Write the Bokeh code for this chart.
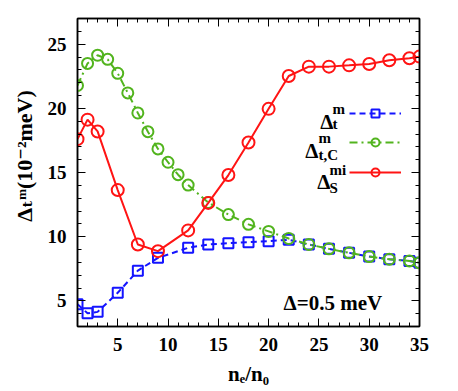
from bokeh.plotting import figure
from bokeh.models import (FixedTicker, LinearAxis, Label, Legend, LegendItem, Range1d)
from bokeh.core.properties import value
from bokeh.embed import file_html
from bokeh.resources import INLINE

# ---- data ----
x_t = [1, 2, 3, 5, 7, 9, 12, 14, 16, 18, 20, 22, 24, 26, 28, 30, 32, 34, 35]
y_t = [4.74, 4.03, 4.14, 5.63, 7.35, 8.35, 9.13, 9.39, 9.49, 9.57, 9.65, 9.76,
       9.39, 9.05, 8.74, 8.45, 8.24, 8.11, 7.96]
x_tc = [1, 2, 3, 4, 5, 6, 7, 8, 9, 10, 11, 12, 14, 16, 18, 20, 22, 24, 26, 28, 30, 32, 34, 35]
y_tc = [21.78, 23.5, 24.14, 23.82, 22.73, 21.2, 19.64, 18.18, 16.84, 15.8, 14.83, 14.02,
        12.66, 11.72, 10.96, 10.41, 9.86, 9.39, 9.05, 8.74, 8.45, 8.24, 8.11, 7.96]
x_s = [1, 2, 3, 5, 7, 9, 12, 14, 16, 18, 20, 22, 24, 26, 28, 30, 32, 34, 35]
y_s = [17.6, 19.12, 18.2, 13.63, 9.39, 8.87, 10.49, 12.63, 14.8, 17.34, 19.96, 22.52,
       23.25, 23.25, 23.35, 23.46, 23.75, 23.9, 24.03]

x_major = [5, 10, 15, 20, 25, 30, 35]
x_minor = list(range(1, 36))
y_major = [5, 10, 15, 20, 25]
y_minor = list(range(3, 28))

x_label = "n\u2091/n\u2080"
y_label = "\u00a0" * 6 + "\u0394\u209c\u1d50(10\u207b\u00b2meV)"

BLUE = "#1414ff"
GREEN = "#52b41e"
RED = "#ff1414"
FONT = "Liberation Serif, Times New Roman, DejaVu Serif, serif"
TICK_FS = "19px"

p = figure(width=458, height=391,
           x_range=Range1d(1, 35), y_range=Range1d(3, 27),
           output_backend="svg", toolbar_location=None,
           min_border_left=77, min_border_right=39,
           min_border_top=18, min_border_bottom=65)
p.xgrid.visible = False
p.ygrid.visible = False
p.outline_line_color = "black"
p.outline_line_width = 1.5
p.background_fill_color = "white"
p.border_fill_color = "white"


def style_axis(ax, ticks, minor, show_labels):
    ax.ticker = FixedTicker(ticks=ticks, minor_ticks=minor)
    ax.major_tick_in = 8
    ax.major_tick_out = 0
    ax.minor_tick_in = 4
    ax.minor_tick_out = 0
    ax.major_tick_line_color = "black"
    ax.minor_tick_line_color = "black"
    ax.major_tick_line_width = 1
    ax.minor_tick_line_width = 1
    ax.axis_line_color = "black"
    ax.axis_line_width = 1.5
    if show_labels:
        ax.major_label_text_font = FONT
        ax.major_label_text_font_style = "bold"
        ax.major_label_text_font_size = TICK_FS
        ax.major_label_text_color = "black"
        ax.major_label_standoff = 11
        ax.axis_label_text_font = FONT
        ax.axis_label_text_font_style = "bold"
        ax.axis_label_text_color = "black"
    else:
        ax.major_label_overrides = {t: "" for t in ticks}
        ax.major_label_text_font_size = "1px"
        ax.major_label_standoff = 0


style_axis(p.xaxis[0], x_major, x_minor, True)
style_axis(p.yaxis[0], y_major, y_minor, True)
p.xaxis[0].axis_label = x_label
p.xaxis[0].axis_label_text_font_size = "21px"
p.xaxis[0].axis_label_standoff = 8
p.yaxis[0].axis_label = y_label
p.yaxis[0].axis_label_text_font_size = "22px"
p.yaxis[0].axis_label_standoff = 8

top_ax = LinearAxis()
right_ax = LinearAxis()
style_axis(top_ax, x_major, x_minor, False)
style_axis(right_ax, y_major, y_minor, False)
p.add_layout(top_ax, "above")
p.add_layout(right_ax, "right")

# ---- series ----
lt = p.line(x_t, y_t, line_color=BLUE, line_width=2, line_dash="6 4")
st = p.scatter(x_t, y_t, marker="square", size=10, line_color=BLUE, line_width=2,
               fill_alpha=0)
lc = p.line(x_tc, y_tc, line_color=GREEN, line_width=2, line_dash="8 4 2 4")
sc = p.scatter(x_tc, y_tc, marker="circle", size=11, line_color=GREEN, line_width=2,
               fill_alpha=0)
ls = p.line(x_s, y_s, line_color=RED, line_width=2)
ss = p.scatter(x_s, y_s, marker="circle", size=12, line_color=RED, line_width=2,
               fill_alpha=0)

# ---- legend samples (one legend per row, labels drawn separately) ----
for rends, loc in [([lt, st], (272, 203)), ([lc, sc], (272, 174)), ([ls, ss], (272, 144))]:
    lg = Legend(items=[LegendItem(label=value(" "), renderers=rends)],
                location=loc, glyph_width=52, glyph_height=20,
                label_width=0, label_standoff=0, label_text_font_size="1px",
                padding=0, margin=0, spacing=0,
                border_line_alpha=0, background_fill_alpha=0)
    p.add_layout(lg, "center")


def txt(x, y, s, size, align="left"):
    p.add_layout(Label(x=x, y=y, x_units="screen", y_units="screen", text=s,
                       text_font=FONT, text_font_style="bold",
                       text_font_size=size, text_color="black",
                       text_align=align, text_baseline="alphabetic"))


# legend texts
txt(256, 205, "\u0394", "21px", "right")
txt(255, 218, "m", "15px")
txt(255, 203, "t", "15px")

txt(241, 176, "\u0394", "21px", "right")
txt(241, 189, "m", "15px")
txt(241, 172, "t,C", "15px")

txt(253, 145, "\u0394", "21px", "right")
txt(252, 157, "mi", "15px")
txt(252, 139, "S", "15px")

# annotation
txt(206, 24, "\u0394=0.5 meV", "21px")

open("out.html", "w").write(file_html(p, INLINE))
